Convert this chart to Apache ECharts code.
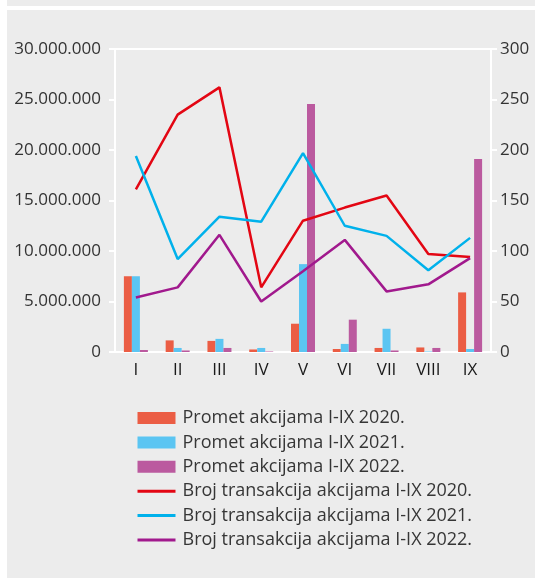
<!DOCTYPE html>
<html>
<head>
<meta charset="utf-8">
<script src="https://cdn.jsdelivr.net/npm/echarts@6/dist/echarts.min.js"></script>
<style>
    html, body { margin: 0; padding: 0; background: #ffffff; }
    .panel { position: absolute; background: #ececec; }
    #chart { position: absolute; left: 0; top: 0; width: 535px; height: 579px; }
</style>
</head>
<body>
<div class="panel" style="left:7px;top:0;width:528px;height:6px"></div>
<div class="panel" style="left:7px;top:10px;width:528px;height:568px"></div>
<div id="chart"></div>
<script>
// Mjeseci
const months = ['I', 'II', 'III', 'IV', 'V', 'VI', 'VII', 'VIII', 'IX'];

// Promet akcijama (lijeva os)
const promet2020 = [7500000, 1150000, 1100000, 250000, 2800000, 300000, 400000, 450000, 5900000];
const promet2021 = [7500000, 400000, 1300000, 400000, 8700000, 800000, 2300000, 50000, 300000];
const promet2022 = [200000, 150000, 400000, 50000, 24550000, 3200000, 150000, 400000, 19100000];

// Broj transakcija (desna os)
const broj2020 = [161, 235, 262, 64, 130, 143, 155, 97, 94];
const broj2021 = [194, 92, 134, 129, 197, 125, 115, 81, 113];
const broj2022 = [54, 64, 116, 50, 80, 111, 60, 67, 93];

const leftTicks = { min: 0, max: 30000000, interval: 5000000 };
const rightTicks = { min: 0, max: 300, interval: 50 };

const colors = {
    bar2020: '#eb5d44',
    bar2021: '#5bc5f2',
    bar2022: '#bb5a9f',
    line2020: '#e30613',
    line2021: '#00b1eb',
    line2022: '#a1198d'
};

const FONT = 'Open Sans';

function fmtThousands(v) {
    return String(v).replace(/\B(?=(\d{3})+(?!\d))/g, '.');
}

const chart = echarts.init(document.getElementById('chart'));

const axisWhite = { lineStyle: { color: '#ffffff', width: 2 } };
// u legendi linije bez tacke
const hidePoint = { color: 'transparent', borderWidth: 0, opacity: 0 };
const legendLine = { width: 3 };

const option = {
    backgroundColor: 'transparent',
    animation: false,
    textStyle: { fontFamily: FONT },
    grid: {
        left: 115, right: 44, top: 49, bottom: 227,
        show: true, borderColor: '#ffffff', borderWidth: 2, backgroundColor: 'transparent'
    },
    legend: {
        orient: 'vertical',
        left: 136,
        top: 409,
        padding: 0,
        itemWidth: 38,
        itemHeight: 12,
        itemGap: 6.4,
        textStyle: { fontFamily: FONT, fontSize: 18, color: '#363636', padding: [0, 0, 0, 2] },
        data: [
            { name: 'Promet akcijama I-IX 2020.', icon: 'rect' },
            { name: 'Promet akcijama I-IX 2021.', icon: 'rect' },
            { name: 'Promet akcijama I-IX 2022.', icon: 'rect' },
            { name: 'Broj transakcija akcijama I-IX 2020.', itemStyle: hidePoint, lineStyle: legendLine },
            { name: 'Broj transakcija akcijama I-IX 2021.', itemStyle: hidePoint, lineStyle: legendLine },
            { name: 'Broj transakcija akcijama I-IX 2022.', itemStyle: hidePoint, lineStyle: legendLine }
        ]
    },
    xAxis: {
        type: 'category',
        data: months,
        axisLine: axisWhite,
        axisTick: { show: false },
        axisLabel: { color: '#1a1a1a', fontSize: 17, margin: 10, fontFamily: FONT }
    },
    yAxis: [
        {
            type: 'value',
            min: leftTicks.min, max: leftTicks.max, interval: leftTicks.interval,
            axisLine: Object.assign({ show: true }, axisWhite),
            axisTick: { show: true, length: 6, lineStyle: { color: '#ffffff', width: 2 } },
            splitLine: { show: false },
            axisLabel: { color: '#333333', fontSize: 17, margin: 14, fontFamily: FONT, formatter: fmtThousands }
        },
        {
            type: 'value',
            min: rightTicks.min, max: rightTicks.max, interval: rightTicks.interval,
            axisLine: Object.assign({ show: true }, axisWhite),
            axisTick: { show: true, length: 6, lineStyle: { color: '#ffffff', width: 2 } },
            splitLine: { show: false },
            axisLabel: { color: '#333333', fontSize: 17, margin: 9, fontFamily: FONT }
        }
    ],
    series: [
        { name: 'Promet akcijama I-IX 2020.', type: 'bar', data: promet2020, barWidth: 8, barGap: '0%', itemStyle: { color: colors.bar2020 } },
        { name: 'Promet akcijama I-IX 2021.', type: 'bar', data: promet2021, barWidth: 8, barGap: '0%', itemStyle: { color: colors.bar2021 } },
        { name: 'Promet akcijama I-IX 2022.', type: 'bar', data: promet2022, barWidth: 8, barGap: '0%', itemStyle: { color: colors.bar2022 } },
        { name: 'Broj transakcija akcijama I-IX 2020.', type: 'line', yAxisIndex: 1, data: broj2020, symbol: 'none', lineStyle: { color: colors.line2020, width: 2.5 }, itemStyle: { color: colors.line2020 } },
        { name: 'Broj transakcija akcijama I-IX 2021.', type: 'line', yAxisIndex: 1, data: broj2021, symbol: 'none', lineStyle: { color: colors.line2021, width: 2.5 }, itemStyle: { color: colors.line2021 } },
        { name: 'Broj transakcija akcijama I-IX 2022.', type: 'line', yAxisIndex: 1, data: broj2022, symbol: 'none', lineStyle: { color: colors.line2022, width: 2.5 }, itemStyle: { color: colors.line2022 } }
    ]
};

chart.setOption(option);
</script>
</body>
</html>
